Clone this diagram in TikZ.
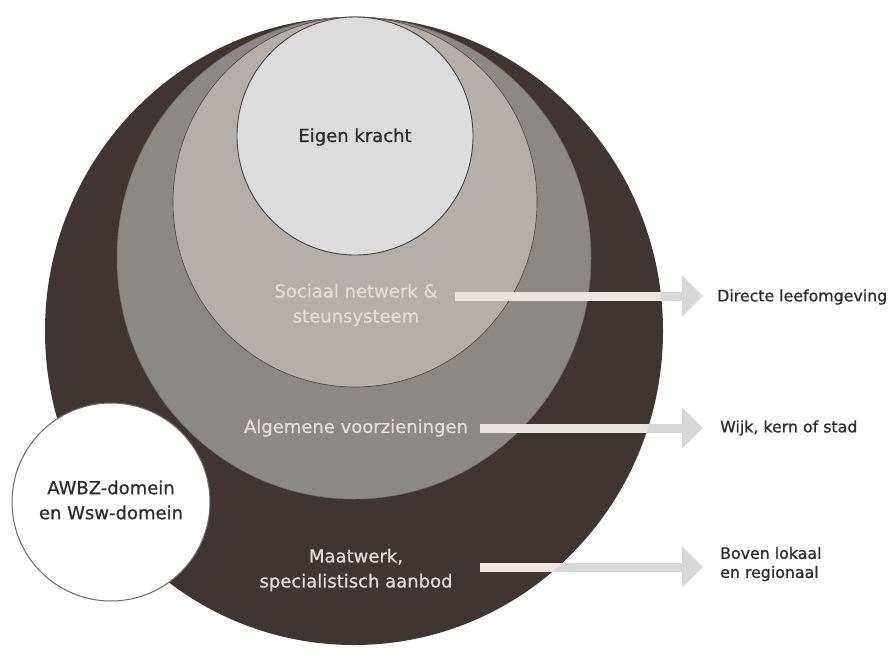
\documentclass[tikz,border=0pt]{standalone}
\usepackage{fontspec}
\setmainfont{DejaVu Sans}
\newfontfamily\heavyfont[FakeBold=0.8]{DejaVu Sans}
\usetikzlibrary{arrows.meta}
\definecolor{ringdark}{RGB}{63,53,51}
\definecolor{ringmid}{RGB}{139,136,134}
\definecolor{ringlight}{RGB}{180,175,170}
\definecolor{corefill}{RGB}{221,220,220}
\definecolor{edgecol}{RGB}{70,66,64}
\definecolor{lighttext}{RGB}{226,221,217}
\definecolor{darktext}{RGB}{45,45,45}
\definecolor{barout}{RGB}{216,216,216}
\definecolor{barin}{RGB}{235,229,225}
\tikzset{
  innerlabel/.style={text=lighttext, align=center, inner sep=0pt,
    font=\heavyfont\fontsize{18}{25}\selectfont},
  darklabel/.style={text=darktext, align=center, inner sep=0pt,
    font=\heavyfont\fontsize{18}{25}\selectfont},
  sidelabel/.style={text=darktext, align=left, anchor=west, inner sep=0pt,
    font=\heavyfont\fontsize{15.8}{19}\selectfont},
  arrowbar/.style={draw=barout, line width=9pt,
    -{Triangle[length=21pt,width=40pt,fill=barout]}},
  innerbar/.style={draw=barin, line width=9pt}
}
\begin{document}
\begin{tikzpicture}[x=1pt,y=-1pt]
\useasboundingbox (0,0) rectangle (894,670);
\fill[white] (0,0) rectangle (894,670);
% nested discs
\fill[ringdark] (354,331) ellipse [x radius=309, y radius=314];
\filldraw[fill=ringmid, draw=ringmid!80!black, line width=0.5pt] (354,258) ellipse [x radius=237, y radius=241];
\filldraw[fill=ringlight, draw=edgecol, line width=0.6pt] (355,202) ellipse [x radius=182, y radius=185];
\filldraw[fill=corefill, draw=edgecol, line width=0.9pt] (355,136) ellipse [x radius=118, y radius=119];
\filldraw[fill=white, draw=edgecol!80, line width=1pt] (111,502) circle [radius=99];
% texts
\node[darklabel] (eigen) at (355,137) {Eigen kracht};
\node[innerlabel] (soc) at (356,305) {Sociaal netwerk \&\\steunsysteem};
\node[innerlabel] (alg) at (356,428) {Algemene voorzieningen};
\node[innerlabel] (maat) at (356,570) {Maatwerk,\\specialistisch aanbod};
\node[darklabel] (awbz) at (111,500) {AWBZ-domein\\en Wsw-domein};
\node[sidelabel] (dir) at (717,297) {Directe leefomgeving};
\node[sidelabel] (wijk) at (720,428) {Wijk, kern of stad};
\node[sidelabel] (bov) at (720,564) {Boven lokaal\\en regionaal};
% arrows
\coordinate (s1) at (455,296); \coordinate (e1) at (703,296);
\coordinate (s2) at (480,428); \coordinate (e2) at (703,428);
\coordinate (s3) at (480,567); \coordinate (e3) at (703,567);
\draw[arrowbar] (s1) -- (e1);
\draw[arrowbar] (s2) -- (e2);
\draw[arrowbar] (s3) -- (e3);
\begin{scope}
  \clip (354,331) ellipse [x radius=309, y radius=314];
  \draw[innerbar] (s1) -- (e1);
  \draw[innerbar] (s2) -- (e2);
  \draw[innerbar] (s3) -- (e3);
\end{scope}
\end{tikzpicture}
\end{document}
